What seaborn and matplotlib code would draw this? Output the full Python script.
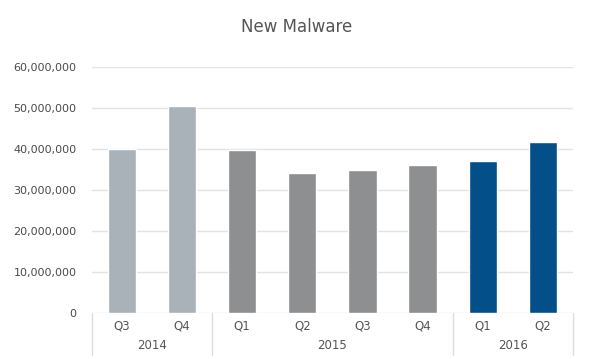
import matplotlib
matplotlib.use("Agg")
import matplotlib.pyplot as plt
import matplotlib.transforms as mtransforms
from matplotlib.ticker import FuncFormatter
import seaborn as sns
import pandas as pd

quarters = ["Q3", "Q4", "Q1", "Q2", "Q3", "Q4", "Q1", "Q2"]
years = ["2014", "2014", "2015", "2015", "2015", "2015", "2016", "2016"]
new_malware = [40.1e6, 50.4e6, 39.8e6, 34.1e6, 34.9e6, 36.1e6, 37.2e6, 41.7e6]

year_colors = {"2014": "#a9b1b9", "2015": "#8d8f91", "2016": "#034f8a"}

df = pd.DataFrame({
    "period": [f"{q} {y}" for q, y in zip(quarters, years)],
    "quarter": quarters,
    "year": years,
    "value": new_malware,
})

sns.set_style("white")
fig = plt.figure(figsize=(6.0, 3.59), dpi=100)
ax = fig.add_axes([0.153, 0.128, 0.802, 0.685])

sns.barplot(
    data=df,
    x="period",
    y="value",
    hue="year",
    palette=year_colors,
    saturation=1,
    dodge=False,
    width=0.47,
    legend=False,
    ax=ax,
    zorder=2,
)

ax.set_ylim(0, 60e6)
ax.set_yticks(range(0, 60_000_001, 10_000_000))
ax.yaxis.set_major_formatter(FuncFormatter(lambda v, p: f"{int(v):,}"))
ax.grid(True, axis="y", color="#e3e3e3", linewidth=1, zorder=0)
ax.set_axisbelow(True)
for s in ax.spines.values():
    s.set_visible(False)

ax.set_xlim(-0.5, len(quarters) - 0.5)
ax.set_xticks(range(len(quarters)))
ax.set_xticklabels(quarters)
ax.tick_params(axis="x", length=0, pad=5, labelsize=8.5, labelcolor="#555555")
ax.tick_params(axis="y", length=0, pad=11, labelsize=8, labelcolor="#4a4a4a")
ax.set_xlabel("")
ax.set_ylabel("")

# year group labels and separators below the axis
trans = mtransforms.blended_transform_factory(ax.transData, ax.transAxes)
groups = []
for i, y in enumerate(years):
    if groups and groups[-1][0] == y:
        groups[-1][2] = i
    else:
        groups.append([y, i, i])
bounds = [-0.5] + [g[2] + 0.5 for g in groups]
for b in bounds:
    ax.plot([b, b], [0, -0.17], transform=trans, color="#dddddd",
            linewidth=1, clip_on=False)
for y, a, b in groups:
    ax.text((a + b) / 2, -0.105, y, transform=trans, ha="center", va="top",
            fontsize=8.5, color="#555555")

fig.text(0.495, 0.925, "New Malware", ha="center", va="center",
         fontsize=12, color="#555555")

fig.savefig("out.png", dpi=100)
